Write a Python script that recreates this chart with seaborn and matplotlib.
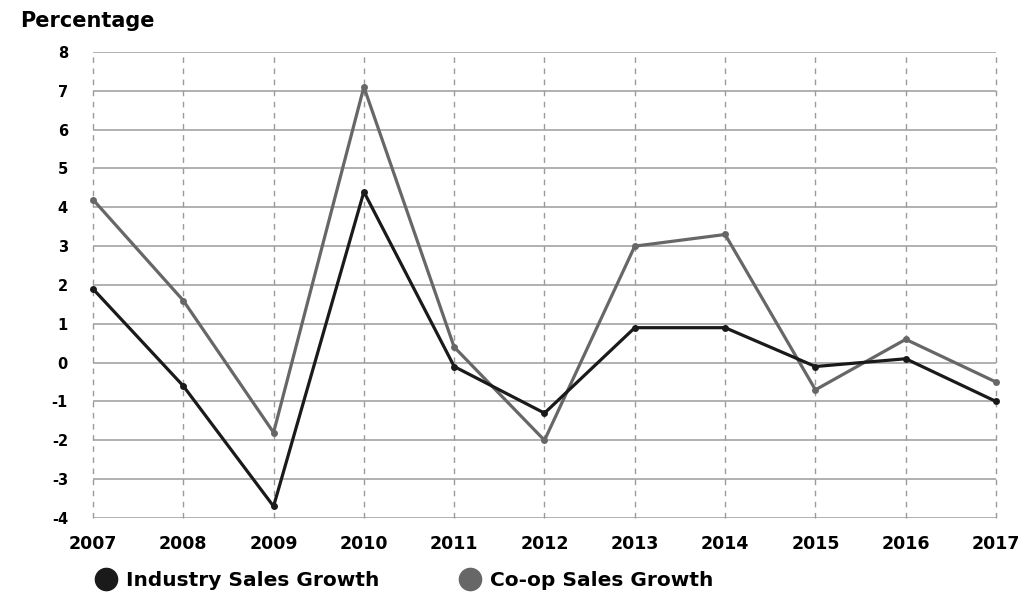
import pandas as pd
import seaborn as sns
from matplotlib import pyplot as plt
from matplotlib.lines import Line2D

years = [2007, 2008, 2009, 2010, 2011, 2012, 2013, 2014, 2015, 2016, 2017]
industry = [1.9, -0.6, -3.7, 4.4, -0.1, -1.3, 0.9, 0.9, -0.1, 0.1, -1.0]
coop = [4.2, 1.6, -1.8, 7.1, 0.4, -2.0, 3.0, 3.3, -0.7, 0.6, -0.5]
series_names = ['Industry Sales Growth', 'Co-op Sales Growth']
colors = ['#1a1a1a', '#676767']

df = pd.DataFrame({
    'year': years * 2,
    'value': industry + coop,
    'series': [series_names[0]] * len(years) + [series_names[1]] * len(years),
})

sns.set_style('white')
plt.rcParams['font.family'] = ['DejaVu Sans']
plt.rcParams['font.weight'] = 'bold'
plt.rcParams['axes.unicode_minus'] = False
plt.rcParams['text.color'] = 'black'
plt.rcParams['xtick.color'] = 'black'
plt.rcParams['ytick.color'] = 'black'

fig = plt.figure(figsize=(10.26, 5.94), dpi=100)
ax = fig.add_axes([0.0906, 0.128, 0.8802, 0.7845])

sns.lineplot(data=df, x='year', y='value', hue='series', hue_order=series_names[::-1],
             palette=dict(zip(series_names, colors)), marker='o', markersize=5,
             markeredgewidth=0, linewidth=2.3, legend=False, ax=ax, clip_on=False)

ax.set_xlim(2007, 2017)
ax.set_ylim(-4, 8)
ax.set_xticks(years)
ax.set_yticks(range(-4, 9))
for y in range(-4, 9):
    ax.axhline(y, color='#b0b0b0', lw=1.4, zorder=0)
for x in years:
    ax.axvline(x, color='#9a9a9a', lw=1.0, ls=(0, (4, 4)), zorder=0, clip_on=False)
for s in ax.spines.values():
    s.set_visible(False)
ax.tick_params(axis='both', length=0)
ax.tick_params(axis='y', pad=18, labelsize=10.5)
ax.tick_params(axis='x', pad=12, labelsize=12.5)
for t in ax.get_xticklabels() + ax.get_yticklabels():
    t.set_fontweight('bold')
ax.set_xlabel('')
ax.set_ylabel('')

fig.text(0.0195, 0.965, 'Percentage', fontsize=15, fontweight='bold', va='center', ha='left')

handles = [Line2D([], [], marker='o', ls='', color=c, markersize=16) for c in colors]
fig.legend(handles, series_names, loc='center left', bbox_to_anchor=(0.074, 0.022),
           ncol=2, frameon=False, handletextpad=0.4, handlelength=1.2, columnspacing=3.9,
           prop={'size': 14.5, 'weight': 'bold'})

fig.savefig('out.png', dpi=100)
